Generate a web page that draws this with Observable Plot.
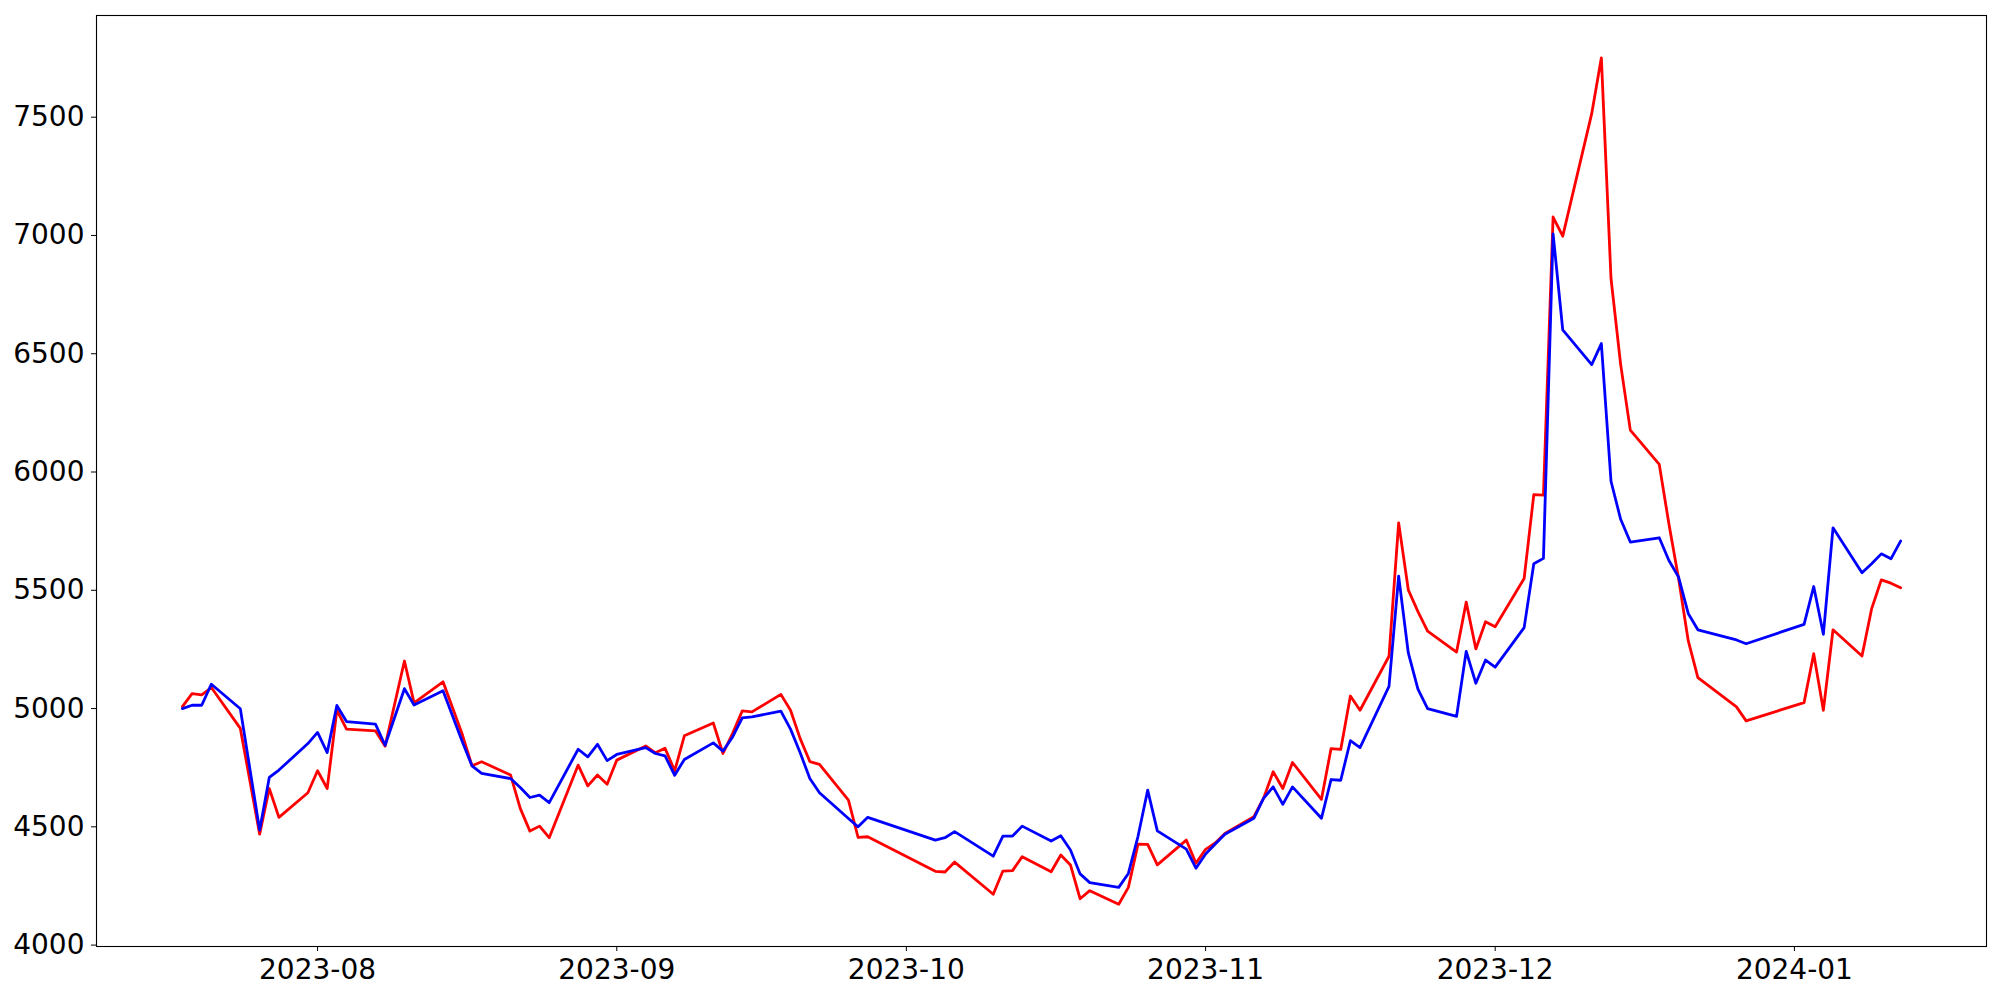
<!DOCTYPE html>
<html><head><meta charset="utf-8">
<script src="https://cdn.jsdelivr.net/npm/d3@7"></script>
<script src="https://cdn.jsdelivr.net/npm/@observablehq/plot@0.6"></script>
<style>
html,body{margin:0;padding:0;background:#fff;}
#chart{width:2000px;height:1000px;}
</style></head><body><div id="chart"></div>
<script>
const dates = [
"2023-07-18","2023-07-19","2023-07-20","2023-07-21","2023-07-24","2023-07-26","2023-07-27","2023-07-28","2023-07-31",
"2023-08-01","2023-08-02","2023-08-03","2023-08-04","2023-08-07","2023-08-08","2023-08-10","2023-08-11","2023-08-14",
"2023-08-16","2023-08-17","2023-08-18","2023-08-21","2023-08-22","2023-08-23","2023-08-24","2023-08-25","2023-08-28",
"2023-08-29","2023-08-30","2023-08-31","2023-09-01","2023-09-04","2023-09-05","2023-09-06","2023-09-07","2023-09-08",
"2023-09-11","2023-09-12","2023-09-13","2023-09-14","2023-09-15","2023-09-18","2023-09-19","2023-09-20","2023-09-21",
"2023-09-22","2023-09-25","2023-09-26","2023-09-27","2023-10-04","2023-10-05","2023-10-06","2023-10-10","2023-10-11",
"2023-10-12","2023-10-13","2023-10-16","2023-10-17","2023-10-18","2023-10-19","2023-10-20","2023-10-23","2023-10-24",
"2023-10-25","2023-10-26","2023-10-27","2023-10-30","2023-10-31","2023-11-01","2023-11-02","2023-11-03","2023-11-06",
"2023-11-07","2023-11-08","2023-11-09","2023-11-10","2023-11-13","2023-11-14","2023-11-15","2023-11-16","2023-11-17",
"2023-11-20","2023-11-21","2023-11-22","2023-11-23","2023-11-24","2023-11-27","2023-11-28","2023-11-29","2023-11-30",
"2023-12-01","2023-12-04","2023-12-05","2023-12-06","2023-12-07","2023-12-08","2023-12-11","2023-12-12","2023-12-13",
"2023-12-14","2023-12-15","2023-12-18","2023-12-19","2023-12-20","2023-12-21","2023-12-22","2023-12-26","2023-12-27",
"2024-01-02","2024-01-03","2024-01-04","2024-01-05","2024-01-08","2024-01-09","2024-01-10","2024-01-11","2024-01-12"
];
const redValues = [
5008,5063,5058,5089,4916,4469,4662,4540,4644,
4737,4662,4993,4913,4906,4841,5201,5024,5113,
4890,4758,4775,4719,4578,4482,4503,4454,4761,
4673,4719,4680,4782,4842,4813,4832,4737,4885,
4939,4810,4895,4990,4986,5060,4993,4873,4776,
4764,4613,4455,4458,4312,4309,4351,4215,4313,
4315,4374,4310,4381,4339,4196,4230,4173,4244,
4427,4426,4339,4444,4346,4405,4432,4472,4543,
4620,4733,4662,4772,4616,4831,4827,5053,4993,
5221,5785,5502,5410,5327,5239,5450,5252,5367,
5346,5550,5904,5902,7078,6997,7515,7751,6818,
6454,6177,6032,5780,5550,5287,5131,5007,4948,
5025,5232,4993,5333,5222,5422,5544,5530,5511
];
const blueValues = [
5000,5014,5014,5103,4999,4486,4709,4740,4852,
4899,4814,5013,4945,4934,4845,5084,5015,5075,
4860,4758,4726,4704,4666,4624,4634,4602,4828,
4796,4849,4780,4806,4835,4810,4800,4718,4785,
4855,4820,4880,4961,4965,4989,4913,4813,4704,
4644,4535,4500,4540,4444,4454,4480,4376,4461,
4461,4503,4440,4462,4402,4301,4264,4244,4303,
4460,4655,4483,4406,4325,4385,4427,4469,4536,
4620,4669,4595,4669,4536,4700,4697,4864,4835,
5094,5560,5235,5082,5000,4967,5242,5107,5205,
5175,5342,5612,5635,7007,6601,6454,6543,5961,
5800,5704,5722,5626,5556,5402,5333,5290,5274,
5356,5516,5314,5764,5574,5612,5654,5633,5708
];
const xTicks = ["2023-08-01","2023-09-01","2023-10-01","2023-11-01","2023-12-01","2024-01-01"];
const yTicks = [4000,4500,5000,5500,6000,6500,7000,7500];

const parse = d3.utcParse("%Y-%m-%d");
const rows = dates.map((d,i)=>({date: parse(d), red: redValues[i], blue: blueValues[i]}));
const [t0,t1] = d3.extent(rows, d=>d.date);
const xpad = (t1-t0)*0.05;
const [v0,v1] = d3.extent(redValues.concat(blueValues));
const ypad = (v1-v0)*0.05;

const chart = Plot.plot({
  width: 2000, height: 1000,
  marginLeft: 96, marginRight: 14, marginTop: 15, marginBottom: 54,
  style: {fontFamily: "DejaVu Sans", fontSize: "28px", color: "#000", background: "#fff", overflow: "visible"},
  x: {type: "utc", domain: [new Date(+t0 - xpad), new Date(+t1 + xpad)], ticks: xTicks.map(parse),
      tickFormat: d3.utcFormat("%Y-%m"), tickSize: 5, tickPadding: 8, label: null},
  y: {domain: [v0 - ypad, v1 + ypad], ticks: yTicks, tickFormat: d => String(d),
      tickSize: 5, tickPadding: 7, label: null},
  marks: [
    Plot.line(rows, {x: "date", y: "red", stroke: "#ff0000", strokeWidth: 2.8}),
    Plot.line(rows, {x: "date", y: "blue", stroke: "#0000ff", strokeWidth: 2.8}),
    Plot.frame({stroke: "#000", strokeWidth: 1.1})
  ]
});
document.getElementById("chart").appendChild(chart);
</script>
</body></html>
